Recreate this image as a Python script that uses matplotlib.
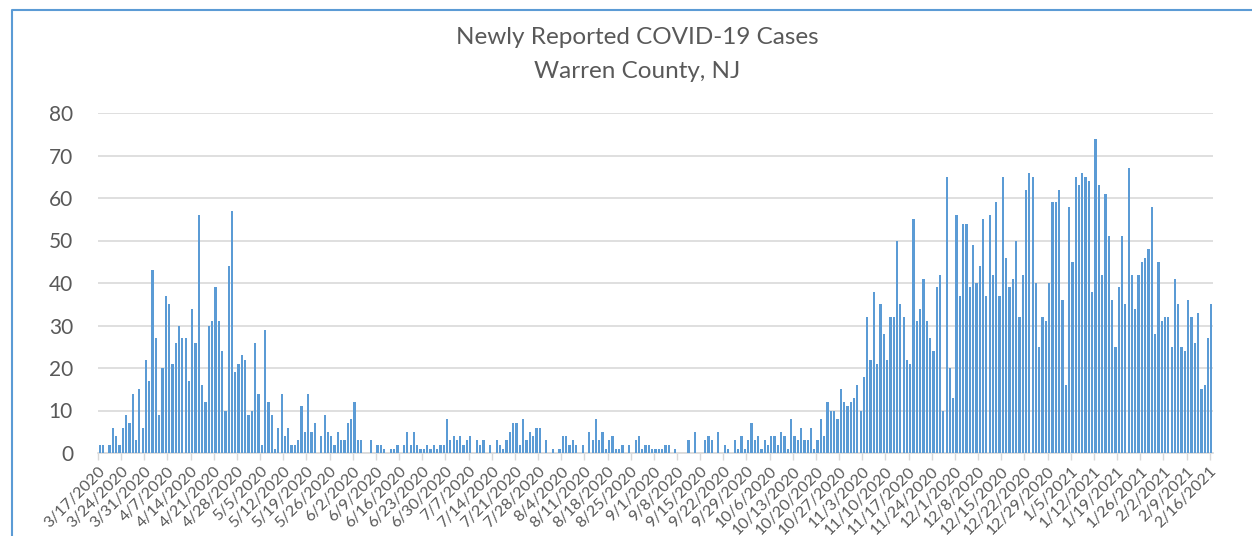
import matplotlib.pyplot as plt
from matplotlib.lines import Line2D
import pandas as pd
import numpy as np

# daily new cases, Warren County NJ, 3/17/2020 - 2/16/2021
cases_mar = [2, 2, 0, 2, 6, 4, 2, 6, 9, 7, 14, 3, 15, 6, 22]
cases_apr = [17, 43, 27, 9, 20, 37, 35, 21, 26, 30, 27, 27, 17, 34, 26,
             56, 16, 12, 30, 31, 39, 31, 24, 10, 44, 57, 19, 21, 23, 22]
cases_may = [9, 10, 26, 14, 2, 29, 12, 9, 1, 6, 14, 4, 6, 2, 2, 3,
             11, 5, 14, 5, 7, 0, 4, 9, 5, 4, 2, 5, 3, 3, 7]
cases_jun = [8, 12, 3, 3, 0, 0, 3, 0, 2, 2, 1, 0, 1, 1, 2,
             0, 2, 5, 2, 5, 2, 1, 1, 2, 1, 2, 1, 2, 2, 8]
cases_jul = [3, 4, 3, 4, 2, 3, 4, 0, 3, 2, 3, 0, 2, 0, 3, 2,
             1, 3, 5, 7, 7, 2, 8, 3, 5, 4, 6, 6, 0, 3, 0]
cases_aug = [1, 0, 1, 4, 4, 2, 3, 2, 0, 2, 0, 5, 3, 8, 3, 5,
             1, 3, 4, 1, 1, 2, 0, 2, 0, 3, 4, 1, 2, 2, 1]
cases_sep = [1, 1, 1, 2, 2, 0, 1, 0, 0, 0, 3, 0, 5, 0, 0,
             3, 4, 3, 0, 5, 0, 2, 1, 0, 3, 1, 4, 1, 3, 7]
cases_oct = [3, 4, 1, 3, 2, 4, 4, 2, 5, 4, 1, 8, 4, 3, 6, 3,
             3, 6, 1, 3, 8, 4, 12, 10, 10, 8, 15, 12, 11, 12, 13]
cases_nov = [16, 10, 18, 32, 22, 38, 21, 35, 28, 22, 32, 32, 50, 35, 32,
             22, 21, 55, 31, 34, 41, 31, 27, 24, 39, 42, 10, 65, 20, 13]
cases_dec = [56, 37, 54, 54, 39, 49, 40, 44, 55, 37, 56, 42, 59, 37, 65, 46,
             39, 41, 50, 32, 42, 62, 66, 65, 40, 25, 32, 31, 40, 59, 59]
cases_jan = [62, 36, 16, 58, 45, 65, 63, 66, 65, 64, 38, 74, 63, 42, 61, 51,
             36, 25, 39, 51, 35, 67, 42, 34, 42, 45, 46, 48, 58, 28, 45]
cases_feb = [31, 32, 32, 25, 41, 35, 25, 24, 36, 32, 26, 33, 15, 16, 27, 35]

cases = (cases_mar + cases_apr + cases_may + cases_jun + cases_jul + cases_aug
         + cases_sep + cases_oct + cases_nov + cases_dec + cases_jan + cases_feb)
dates = pd.date_range('2020-03-17', '2021-02-16', freq='D')

font = 'Lato'
grey = '#595959'

fig = plt.figure(figsize=(12.52, 5.36), dpi=100)
ax = fig.add_axes([98 / 1252, 1 - 453 / 536, (1213 - 98) / 1252, (453 - 113) / 536])

x = np.arange(len(cases))
ax.bar(x, cases, width=0.68, color='#5B9BD5', zorder=3)

ax.set_xlim(-0.5, len(cases) - 0.5)
ax.set_ylim(0, 80)
ax.set_yticks(range(0, 81, 10))
ax.yaxis.grid(True, color='#D9D9D9', linewidth=1.2, zorder=0)
ax.tick_params(axis='y', length=0, pad=18, labelsize=15, labelcolor=grey)
for lab in ax.get_yticklabels():
    lab.set_fontfamily(font)

week_pos = x[::7] - 0.5
week_lab = [f'{d.month}/{d.day}/{d.year}' for d in dates[::7]]
ax.set_xticks(week_pos)
ax.set_xticklabels(week_lab, rotation=45, ha='right', va='top',
                   rotation_mode='anchor', fontsize=11.5, color=grey, family=font)
ax.tick_params(axis='x', length=5, width=1, color='#D9D9D9', pad=3)

for s in ['top', 'right', 'left']:
    ax.spines[s].set_visible(False)
ax.spines['bottom'].set_color('#D9D9D9')
ax.spines['bottom'].set_linewidth(1.2)

fig.text(637 / 1252, 1 - 37 / 536, 'Newly Reported COVID-19 Cases', ha='center',
         va='center', fontsize=17.5, color=grey, family=font)
fig.text(637 / 1252, 1 - 72 / 536, 'Warren County, NJ', ha='center',
         va='center', fontsize=17.5, color=grey, family=font)

# chart frame, cropped on the right and bottom
fig.add_artist(Line2D([12 / 1252, 12 / 1252, 1], [0, 1 - 10 / 536, 1 - 10 / 536],
                      transform=fig.transFigure, color='#5B9BD5', linewidth=1.5))

fig.savefig('out.png', dpi=100)
